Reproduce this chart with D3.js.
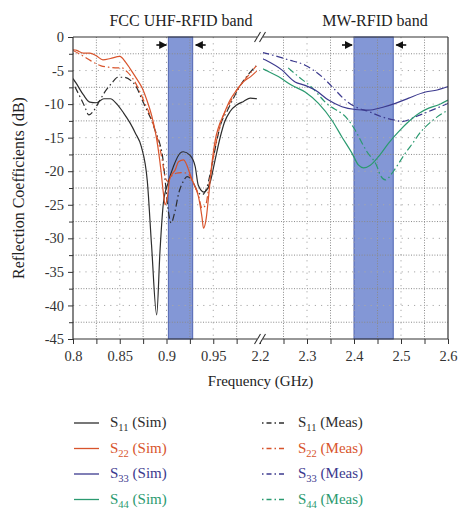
<!DOCTYPE html>
<html>
<head>
<meta charset="utf-8">
<script src="https://cdn.jsdelivr.net/npm/d3@7"></script>
<style>
  html, body { margin: 0; padding: 0; background: #fff; }
  svg { display: block; font-family: "Liberation Serif", "Times New Roman", serif; }
</style>
</head>
<body>
<svg id="chart" width="474" height="522"></svg>
<script>
// ---------------- DATA ----------------
const yTicks = [0, -5, -10, -15, -20, -25, -30, -35, -40, -45];
const yMinorTicks = [-2.5, -7.5, -12.5, -17.5, -22.5, -27.5, -32.5, -37.5, -42.5];
const xTicksLeft = [0.8, 0.85, 0.9, 0.95];
const xMinorLeft = [0.825, 0.875, 0.925, 0.975];
const xTicksRight = [2.2, 2.3, 2.4, 2.5, 2.6];
const xMinorRight = [2.25, 2.35, 2.45, 2.55];
const bandLeft = [0.902, 0.928];
const bandRight = [2.4, 2.4835];
const panelTitles = ["FCC UHF-RFID band", "MW-RFID band"];

// S11 / S22 : UHF band (GHz, dB)
const s11Sim = [[0.800,-6.2],[0.803,-6.8],[0.811,-8.6],[0.818,-9.7],[0.825,-9.8],[0.833,-9.2],[0.840,-9.2],[0.847,-10.0],[0.854,-11.3],[0.861,-12.8],[0.867,-14.4],[0.873,-16.3],[0.8795,-21.5],[0.884,-31],[0.8895,-41.4],[0.893,-32],[0.8967,-24.7],[0.902,-21.6],[0.9074,-19.3],[0.9146,-17.3],[0.918,-17.1],[0.925,-17.6],[0.9307,-19.3],[0.934,-22.1],[0.940,-23.1],[0.9468,-21.6],[0.952,-18.3],[0.9575,-14.9],[0.962,-12.7],[0.968,-11.1],[0.9754,-10.1],[0.9824,-9.6],[0.9896,-9.1],[0.9968,-9.2]];
const s22Sim = [[0.800,-1.9],[0.804,-2.0],[0.811,-2.4],[0.818,-2.4],[0.825,-2.8],[0.832,-3.4],[0.840,-3.2],[0.850,-2.9],[0.856,-3.7],[0.861,-4.7],[0.868,-6.2],[0.874,-7.6],[0.879,-9.4],[0.8843,-11.8],[0.888,-14.1],[0.8897,-15.4],[0.894,-19.8],[0.8967,-23.3],[0.8985,-25.0],[0.901,-23.8],[0.9032,-21.3],[0.9057,-20.5],[0.9093,-19.8],[0.9128,-18.6],[0.9182,-18.3],[0.9218,-19.1],[0.9253,-20.5],[0.9289,-21.8],[0.9342,-23.8],[0.9379,-26.8],[0.9396,-28.5],[0.9425,-27],[0.945,-23.8],[0.9486,-18.8],[0.9521,-15.4],[0.9555,-13.5],[0.961,-11.6],[0.968,-9.4],[0.975,-7.9],[0.982,-6.7],[0.990,-5.9],[0.997,-5.0]];
const s11Meas = [[0.802,-7.4],[0.806,-8.5],[0.812,-10.2],[0.817,-11.6],[0.822,-11.0],[0.828,-9.6],[0.835,-8.0],[0.842,-6.8],[0.848,-6.0],[0.855,-6.0],[0.862,-6.5],[0.868,-7.5],[0.874,-9.4],[0.879,-10.9],[0.884,-12.4],[0.888,-14.0],[0.892,-15.5],[0.896,-18],[0.899,-22],[0.902,-26],[0.905,-27.7],[0.909,-26],[0.913,-23.3],[0.918,-21.5],[0.922,-20.8],[0.928,-21.5],[0.933,-23],[0.938,-23.5],[0.943,-22.5],[0.948,-19.5],[0.953,-16],[0.958,-13],[0.965,-11],[0.972,-9],[0.980,-7],[0.988,-5.5],[0.996,-4.3]];
const s22Meas = [[0.800,-2.0],[0.808,-2.6],[0.815,-3.2],[0.822,-3.8],[0.830,-4.3],[0.838,-4.5],[0.845,-4.6],[0.852,-4.6],[0.858,-5.2],[0.864,-6.2],[0.870,-7.7],[0.876,-9.6],[0.882,-11.5],[0.887,-13.5],[0.891,-15.5],[0.895,-18],[0.898,-20.5],[0.901,-21.5],[0.905,-20.8],[0.910,-20.3],[0.916,-20.2],[0.922,-20.3],[0.928,-21.5],[0.934,-23.5],[0.938,-25.5],[0.942,-25],[0.946,-21.5],[0.950,-18],[0.955,-14.5],[0.960,-12],[0.967,-10],[0.975,-8],[0.983,-6.5],[0.990,-5.3],[0.996,-4.3]];

// S33 / S44 : MW band (GHz, dB)
const s33Sim = [[2.205,-3.2],[2.2107,-3.4],[2.2463,-4.9],[2.2747,-6.7],[2.296,-7.2],[2.3173,-7.9],[2.3457,-9.4],[2.3743,-10.4],[2.4027,-10.8],[2.431,-10.9],[2.4596,-10.5],[2.488,-9.9],[2.5164,-9.1],[2.552,-8.2],[2.577,-7.9],[2.600,-7.4]];
const s44Sim = [[2.205,-4.7],[2.2107,-4.9],[2.239,-5.9],[2.2676,-7.2],[2.296,-8.2],[2.3244,-9.9],[2.353,-12.4],[2.3743,-14.9],[2.3956,-17.3],[2.4097,-19.1],[2.4204,-19.5],[2.4347,-19.1],[2.4524,-17.8],[2.4737,-15.8],[2.495,-14.1],[2.5164,-12.6],[2.5377,-11.4],[2.559,-10.6],[2.5804,-10.1],[2.600,-9.4]];
const s33Meas = [[2.205,-2.3],[2.2107,-2.4],[2.2604,-3.4],[2.296,-4.2],[2.3316,-5.9],[2.360,-7.9],[2.3813,-9.4],[2.4027,-10.4],[2.431,-11.1],[2.4596,-11.9],[2.488,-12.4],[2.5023,-12.6],[2.5307,-11.9],[2.566,-10.9],[2.600,-9.9]];
const s44Meas = [[2.26,-4.6],[2.2817,-5.9],[2.31,-7.5],[2.34,-9.8],[2.3884,-12.4],[2.4027,-13.9],[2.417,-15.8],[2.4276,-17.1],[2.449,-19.3],[2.456,-20.6],[2.4667,-21.3],[2.481,-20.3],[2.488,-19.6],[2.5093,-17.3],[2.52,-16.3],[2.545,-13.9],[2.552,-13.4],[2.577,-11.9],[2.600,-10.9]];

const legendNames = ["11", "22", "33", "44"];
const legendKinds = ["Sim", "Meas"];

// ---------------- STYLE / LAYOUT ----------------
const colors = { "11": "#2e2e2e", "22": "#d8542c", "33": "#3c3a8e", "44": "#2b9a70" };
const dashMeas = "7,3,1.5,3";
const M = { left: 73, right: 448, top: 37, bottom: 339, brk: 260 };

const svg = d3.select("#chart");
const xL = d3.scaleLinear().domain([0.8, 1.0]).range([M.left, M.brk]);
const xR = d3.scaleLinear().domain([2.2, 2.6]).range([M.brk, M.right]);
const y = d3.scaleLinear().domain([-45, 0]).range([M.bottom, M.top]);

// clip paths
const defs = svg.append("defs");
defs.append("clipPath").attr("id", "clipL").append("rect")
  .attr("x", M.left).attr("y", M.top).attr("width", M.brk - 3 - M.left).attr("height", M.bottom - M.top);
defs.append("clipPath").attr("id", "clipR").append("rect")
  .attr("x", M.brk + 3).attr("y", M.top).attr("width", M.right - M.brk - 3).attr("height", M.bottom - M.top);

// bands
svg.append("rect").attr("x", xL(bandLeft[0])).attr("y", M.top)
  .attr("width", xL(bandLeft[1]) - xL(bandLeft[0])).attr("height", M.bottom - M.top)
  .attr("fill", "#8397d6").attr("stroke", "#5065b3").attr("stroke-width", 1);
svg.append("rect").attr("x", xR(bandRight[0])).attr("y", M.top)
  .attr("width", xR(bandRight[1]) - xR(bandRight[0])).attr("height", M.bottom - M.top)
  .attr("fill", "#8397d6").attr("stroke", "#5065b3").attr("stroke-width", 1);

// grid
const grid = svg.append("g");
function vline(x, major) {
  grid.append("line").attr("x1", x).attr("x2", x).attr("y1", M.top).attr("y2", M.bottom)
    .attr("stroke", major ? "#a8a8a8" : "#8a8a8a").attr("stroke-width", 1)
    .attr("stroke-dasharray", major ? "1.2,5" : "1,1.6");
}
function hline(yy, major) {
  grid.append("line").attr("x1", M.left).attr("x2", M.right).attr("y1", yy).attr("y2", yy)
    .attr("stroke", major ? "#a8a8a8" : "#8a8a8a").attr("stroke-width", 1)
    .attr("stroke-dasharray", major ? "1.2,5" : "1,1.6");
}
xMinorLeft.forEach(d => vline(xL(d), false));
xTicksLeft.slice(1).forEach(d => vline(xL(d), true));
xMinorRight.forEach(d => vline(xR(d), false));
xTicksRight.slice(1, -1).forEach(d => vline(xR(d), true));
yMinorTicks.forEach(d => hline(y(d), false));
yTicks.slice(1, -1).forEach(d => hline(y(d), true));

// curves
const lineL = d3.line().x(d => xL(d[0])).y(d => y(d[1])).curve(d3.curveMonotoneX);
const lineR = d3.line().x(d => xR(d[0])).y(d => y(d[1])).curve(d3.curveMonotoneX);
const curves = [
  { data: s11Meas, line: lineL, clip: "clipL", c: "11", meas: true },
  { data: s22Meas, line: lineL, clip: "clipL", c: "22", meas: true },
  { data: s11Sim, line: lineL, clip: "clipL", c: "11", meas: false },
  { data: s22Sim, line: lineL, clip: "clipL", c: "22", meas: false },
  { data: s33Meas, line: lineR, clip: "clipR", c: "33", meas: true },
  { data: s44Meas, line: lineR, clip: "clipR", c: "44", meas: true },
  { data: s33Sim, line: lineR, clip: "clipR", c: "33", meas: false },
  { data: s44Sim, line: lineR, clip: "clipR", c: "44", meas: false }
];
curves.forEach(cv => {
  svg.append("path").attr("d", cv.line(cv.data)).attr("clip-path", `url(#${cv.clip})`)
    .attr("fill", "none").attr("stroke", colors[cv.c]).attr("stroke-width", 1.2)
    .attr("stroke-dasharray", cv.meas ? dashMeas : null);
});

// frame
const frame = svg.append("g").attr("stroke", "#333").attr("stroke-width", 1.2).attr("fill", "none");
frame.append("line").attr("x1", M.left).attr("x2", M.right).attr("y1", M.top).attr("y2", M.top);
frame.append("line").attr("x1", M.right).attr("x2", M.right).attr("y1", M.top).attr("y2", M.bottom);
frame.append("line").attr("x1", M.left).attr("x2", M.right).attr("y1", M.bottom).attr("y2", M.bottom);
frame.append("line").attr("x1", M.left).attr("x2", M.left).attr("y1", M.top).attr("y2", M.bottom);

// axes
const fmt = d => String(d);
svg.append("g").attr("transform", `translate(${M.left},0)`)
  .call(d3.axisLeft(y).tickValues(yTicks).tickSize(5).tickPadding(4).tickFormat(fmt));
svg.append("g").attr("transform", `translate(${M.left},0)`)
  .call(d3.axisLeft(y).tickValues(yMinorTicks).tickSize(4).tickFormat(""));
svg.append("g").attr("transform", `translate(0,${M.bottom})`)
  .call(d3.axisBottom(xL).tickValues(xTicksLeft).tickSize(5).tickPadding(7).tickFormat(fmt));
svg.append("g").attr("transform", `translate(0,${M.bottom})`)
  .call(d3.axisBottom(xL).tickValues(xMinorLeft).tickSize(5).tickFormat(""));
svg.append("g").attr("transform", `translate(0,${M.bottom})`)
  .call(d3.axisBottom(xR).tickValues(xTicksRight).tickSize(5).tickPadding(7).tickFormat(fmt));
svg.append("g").attr("transform", `translate(0,${M.bottom})`)
  .call(d3.axisBottom(xR).tickValues(xMinorRight).tickSize(5).tickFormat(""));
svg.selectAll(".domain").remove();
svg.selectAll(".tick line").attr("stroke", "#333").attr("stroke-width", 1);
svg.selectAll(".tick text").attr("font-family", "Liberation Serif, serif").attr("font-size", 14.5).attr("fill", "#333");

// axis break marks
function breakMark(yy) {
  svg.append("rect").attr("x", M.brk - 3).attr("y", yy - 3).attr("width", 6).attr("height", 6).attr("fill", "#fff");
  [-2.5, 2.5].forEach(o => {
    svg.append("line").attr("x1", M.brk + o - 3).attr("y1", yy + 5).attr("x2", M.brk + o + 3).attr("y2", yy - 5)
      .attr("stroke", "#333").attr("stroke-width", 1.1);
  });
}
breakMark(M.top);
breakMark(M.bottom);

// arrows
defs.append("marker").attr("id", "ah").attr("viewBox", "0 0 10 10").attr("refX", 9).attr("refY", 5)
  .attr("markerWidth", 5).attr("markerHeight", 5).attr("orient", "auto")
  .append("path").attr("d", "M0,0L10,5L0,10z").attr("fill", "#111");
function arrow(xTip, dir) {
  svg.append("line").attr("x1", xTip - dir * 10).attr("x2", xTip).attr("y1", M.top + 8).attr("y2", M.top + 8)
    .attr("stroke", "#111").attr("stroke-width", 1.6).attr("marker-end", "url(#ah)");
}
arrow(xL(bandLeft[0]) - 2, 1);
arrow(xL(bandLeft[1]) + 3, -1);
arrow(xR(bandRight[0]) - 2, 1);
arrow(xR(bandRight[1]) + 3, -1);

// titles
svg.append("text").attr("x", 181).attr("y", 26).attr("text-anchor", "middle")
  .attr("font-size", 16).attr("fill", "#222").text(panelTitles[0]);
svg.append("text").attr("x", 375).attr("y", 26).attr("text-anchor", "middle")
  .attr("font-size", 16).attr("fill", "#222").text(panelTitles[1]);

// axis titles
svg.append("text").attr("x", (M.left + M.right) / 2).attr("y", 386).attr("text-anchor", "middle")
  .attr("font-size", 15).attr("fill", "#222").text("Frequency (GHz)");
svg.append("text").attr("transform", `translate(24,${(M.top + M.bottom) / 2}) rotate(-90)`)
  .attr("text-anchor", "middle").attr("font-size", 16).attr("fill", "#222").text("Reflection Coefficients (dB)");

// legend
const legCols = [{ lx: 74, tx: 110 }, { lx: 262, tx: 298 }];
legendKinds.forEach((kind, ci) => {
  legendNames.forEach((nm, ri) => {
    const yy = 423 + ri * 25.5;
    svg.append("line").attr("x1", legCols[ci].lx).attr("x2", legCols[ci].lx + 25)
      .attr("y1", yy).attr("y2", yy).attr("stroke", colors[nm]).attr("stroke-width", 1.3)
      .attr("stroke-dasharray", ci === 1 ? "1.5,3,5,3" : null);
    const t = svg.append("text").attr("x", legCols[ci].tx).attr("y", yy + 4)
      .attr("font-size", 15).attr("fill", colors[nm]);
    t.append("tspan").text("S");
    t.append("tspan").attr("dy", 4).attr("font-size", 10.5).text(nm);
    t.append("tspan").attr("dy", -4).text(` (${kind})`);
  });
});
</script>
</body>
</html>
